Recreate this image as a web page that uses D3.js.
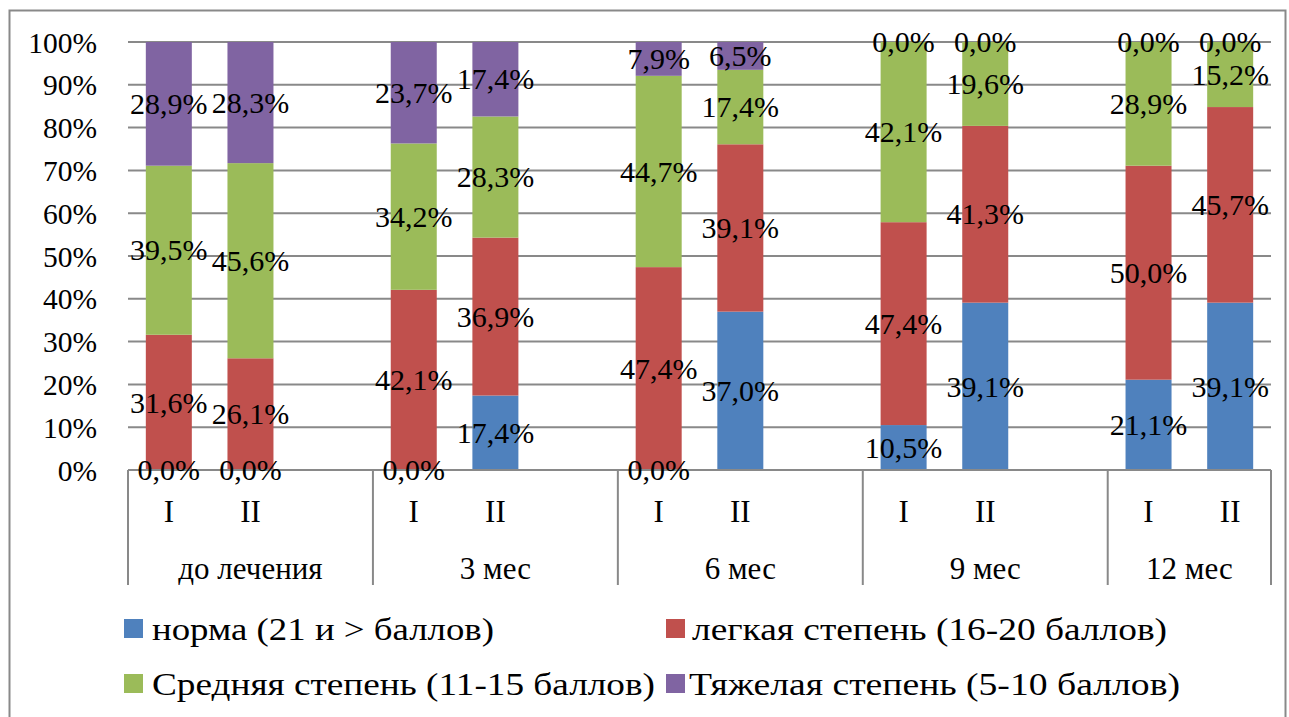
<!DOCTYPE html>
<html>
<head>
<meta charset="utf-8">
<script src="https://cdn.jsdelivr.net/npm/d3@7"></script>
<style>
  html, body { margin: 0; padding: 0; background: #fff; }
  svg { display: block; }
</style>
</head>
<body>
<svg id="chart" width="1289" height="717"></svg>
<script>
// ---- data ----
const groups = ["до лечения", "3 мес", "6 мес", "9 мес", "12 мес"];
const subgroups = ["I", "II"];
const seriesNames = [
  "норма (21 и > баллов)",
  "легкая степень (16-20 баллов)",
  "Средняя степень (11-15 баллов)",
  "Тяжелая степень (5-10 баллов)"
];
const seriesColors = ["#4F81BD", "#C0504D", "#9BBB59", "#8064A2"];
// order of bars: до лечения I, II, 3 мес I, II, 6 мес I, II, 9 мес I, II, 12 мес I, II
const norma      = [0.0, 0.0, 0.0, 17.4, 0.0, 37.0, 10.5, 39.1, 21.1, 39.1];
const legkaya    = [31.6, 26.1, 42.1, 36.9, 47.4, 39.1, 47.4, 41.3, 50.0, 45.7];
const srednyaya  = [39.5, 45.6, 34.2, 28.3, 44.7, 17.4, 42.1, 19.6, 28.9, 15.2];
const tyazhelaya = [28.9, 28.3, 23.7, 17.4, 7.9, 6.5, 0.0, 0.0, 0.0, 0.0];
const yTickValues = [0, 0.1, 0.2, 0.3, 0.4, 0.5, 0.6, 0.7, 0.8, 0.9, 1.0];

// ---- layout ----
const FONT = "'Liberation Serif', 'Times New Roman', serif";
const svg = d3.select("#chart").attr("font-family", FONT);
const plot = { left: 128, right: 1271, top: 42, bottom: 470 };
const FS = 30;

// outer border
svg.append("rect").attr("x", 9.5).attr("y", 10.5).attr("width", 1276).attr("height", 720)
  .attr("fill", "none").attr("stroke", "#898989").attr("stroke-width", 2);

// slots: I, II, blank per group (no trailing blank after last group)
const slots = [];
groups.forEach((g, gi) => {
  subgroups.forEach(s => slots.push({ id: g + "|" + s, group: g, sub: s }));
  if (gi < groups.length - 1) slots.push({ id: g + "|blank", group: g, sub: null });
});
const x = d3.scaleBand().domain(slots.map(d => d.id)).range([plot.left, plot.right]).paddingInner(0).paddingOuter(0);
const y = d3.scaleLinear().domain([0, 1]).range([plot.bottom, plot.top]);

// rows
const rows = [];
groups.forEach((g, gi) => subgroups.forEach((s, si) => {
  const i = gi * 2 + si;
  rows.push({ key: g + "|" + s, s0: norma[i], s1: legkaya[i], s2: srednyaya[i], s3: tyazhelaya[i] });
}));
const keys = ["s0", "s1", "s2", "s3"];
const stacked = d3.stack().keys(keys).offset(d3.stackOffsetExpand)(rows);

// gridlines
svg.append("g").selectAll("line").data(yTickValues).join("line")
  .attr("x1", plot.left).attr("x2", plot.right)
  .attr("y1", d => y(d)).attr("y2", d => y(d))
  .attr("stroke", "#898989").attr("stroke-width", 2);

// y axis labels
const yAxis = d3.axisLeft(y).tickValues(yTickValues).tickFormat(d3.format(".0%")).tickSize(0).tickPadding(0);
const yg = svg.append("g").attr("transform", `translate(97,0)`).call(yAxis)
  .attr("font-family", FONT).attr("font-size", 29.5);
yg.select(".domain").remove();
yg.selectAll("text").attr("fill", "#000").attr("dy", "0.34em");

// bars
const bw = 46;
const bx = k => x(k) + x.bandwidth() / 2 - bw / 2;
stacked.forEach((layer, li) => {
  svg.append("g").selectAll("rect").data(layer).join("rect")
    .attr("x", d => bx(d.data.key))
    .attr("width", bw)
    .attr("y", d => y(d[1]))
    .attr("height", d => Math.max(0, y(d[0]) - y(d[1])))
    .attr("fill", seriesColors[li]);
});

// bottom axis line
svg.append("line").attr("x1", plot.left).attr("x2", plot.right).attr("y1", plot.bottom).attr("y2", plot.bottom)
  .attr("stroke", "#898989").attr("stroke-width", 2);

// data labels
const fmt = v => d3.format(".1f")(v).replace(".", ",") + "%";
stacked.forEach((layer, li) => {
  svg.append("g").selectAll("text").data(layer).join("text")
    .attr("x", d => x(d.data.key) + x.bandwidth() / 2)
    .attr("y", d => y((d[0] + d[1]) / 2))
    .attr("dy", "0.34em")
    .attr("text-anchor", "middle")
    .attr("font-size", FS)
    .text(d => fmt(d.data[keys[li]]));
});

// category axis: separators
const sepX = [plot.left];
groups.forEach((g, gi) => { if (gi > 0) sepX.push(x(g + "|I")); });
sepX.push(plot.right);
svg.append("g").selectAll("line").data(sepX).join("line")
  .attr("x1", d => d).attr("x2", d => d).attr("y1", plot.bottom).attr("y2", 585)
  .attr("stroke", "#898989").attr("stroke-width", 2);

// subgroup labels
svg.append("g").selectAll("text").data(slots.filter(d => d.sub)).join("text")
  .attr("x", d => x(d.id) + x.bandwidth() / 2)
  .attr("y", 511).attr("dy", "0.34em").attr("text-anchor", "middle").attr("font-size", 31)
  .text(d => d.sub);

// group labels
svg.append("g").selectAll("text").data(groups).join("text")
  .attr("x", (g, gi) => (sepX[gi] + sepX[gi + 1]) / 2)
  .attr("y", 568).attr("dy", "0.34em").attr("text-anchor", "middle").attr("font-size", 31)
  .text(d => d);

// legend
const legendPos = [
  { sx: 124, tx: 152, y: 629, w: 342 },
  { sx: 666, tx: 692, y: 629, w: 475 },
  { sx: 124, tx: 152, y: 684, w: 503 },
  { sx: 666, tx: 689, y: 684, w: 491 }
];
const lg = svg.append("g");
seriesNames.forEach((name, i) => {
  const p = legendPos[i];
  lg.append("rect").attr("x", p.sx).attr("y", p.y - 10).attr("width", 19).attr("height", 19).attr("fill", seriesColors[i]);
  lg.append("text").attr("x", p.tx).attr("y", p.y).attr("dy", "0.34em").attr("font-size", 31)
    .attr("textLength", p.w).attr("lengthAdjust", "spacingAndGlyphs").text(name);
});
</script>
</body>
</html>
